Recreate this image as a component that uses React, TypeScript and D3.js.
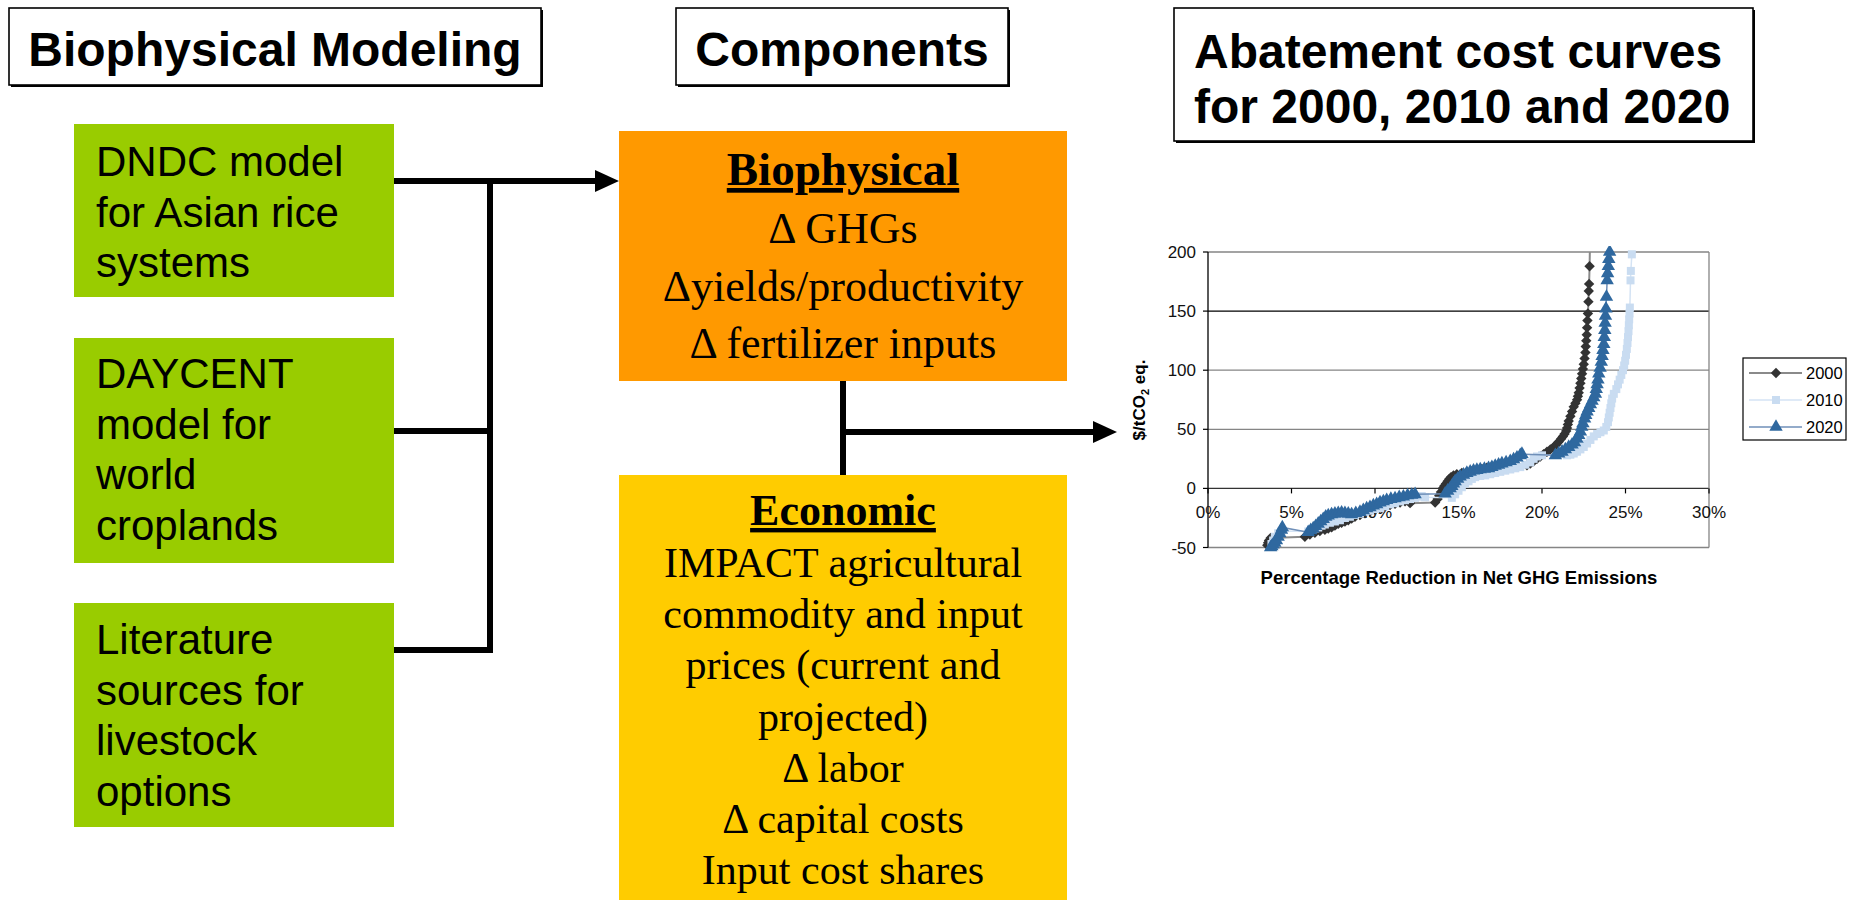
import * as d3 from "d3";

// axis ticks
const pctTicks = [0, 5, 10, 15, 20, 25, 30];
const costTicks = [-50, 0, 50, 100, 150, 200];

// abatement curves: [% reduction in net GHG emissions, $/tCO2 eq.]
const curve2000: [number, number][] = [
  [3.55, -48], [3.6, -46], [3.65, -44], [3.75, -42], [5.8, -41], [6.1, -39], [6.4, -37.5], [6.7, -36],
  [7.0, -35], [7.2, -34], [7.4, -33], [7.6, -31.5], [7.8, -30], [8.0, -29], [8.2, -28], [8.4, -27],
  [8.6, -25.5], [8.8, -24], [9.1, -22.5], [9.4, -21], [9.7, -19.5], [10.0, -18], [10.3, -16.5], [10.6, -15],
  [10.9, -14], [11.2, -13], [11.5, -12], [11.8, -11], [12.1, -12.5], [13.6, -12], [13.75, -9], [13.85, -6],
  [13.95, -3], [14.05, 0], [14.15, 2], [14.25, 4], [14.35, 6], [14.45, 8], [14.55, 9.5], [14.7, 11],
  [14.9, 12], [15.2, 13], [15.5, 14], [15.8, 14.5], [16.1, 15.5], [16.4, 16.5], [16.7, 17.5], [17.0, 18.5],
  [19.1, 19.5], [19.3, 21], [19.5, 23], [19.7, 25], [19.9, 27], [20.1, 29], [20.3, 31], [20.5, 33],
  [20.7, 35], [20.85, 37], [21.0, 39.5], [21.15, 42], [21.25, 44], [21.35, 46], [21.45, 48.5], [21.5, 51],
  [21.55, 54], [21.6, 57], [21.7, 61], [21.8, 65], [21.9, 69], [22.0, 72], [22.1, 75], [22.15, 78],
  [22.2, 81], [22.25, 85], [22.3, 89], [22.35, 93], [22.4, 97], [22.45, 101], [22.5, 105], [22.55, 110],
  [22.6, 115], [22.62, 120], [22.65, 125], [22.68, 130], [22.7, 136], [22.72, 142], [22.75, 148], [22.78, 158],
  [22.8, 167], [22.82, 173], [22.85, 188], [22.9, 230],
];
const curve2010: [number, number][] = [
  [3.8, -47], [3.9, -44], [4.0, -41], [4.2, -38], [4.4, -36], [6.0, -36.5], [6.2, -35], [6.4, -34],
  [6.6, -33], [6.8, -31.5], [7.0, -30.5], [7.3, -29], [7.6, -28], [7.9, -27], [8.2, -25], [8.5, -24],
  [8.8, -22.5], [9.1, -21.5], [9.4, -20], [9.7, -19], [10.0, -17.5], [10.3, -16.5], [10.6, -15], [10.9, -13.5],
  [11.2, -12.5], [11.5, -11], [11.8, -10], [12.1, -9], [12.4, -8], [12.6, -7], [12.8, -6.5], [13.0, -7.5],
  [14.6, -8], [14.8, -5], [15.0, -2], [15.2, 1], [15.4, 4], [15.6, 6], [15.8, 8], [16.0, 9.5],
  [16.3, 10.5], [16.6, 11], [16.9, 12], [17.2, 13], [17.5, 14], [17.8, 15], [18.1, 16], [18.4, 17],
  [18.7, 18], [19.0, 20], [19.3, 22], [19.5, 25], [19.7, 27], [20.0, 28], [21.5, 28], [21.7, 28.5],
  [21.9, 29.5], [22.1, 31], [22.3, 33], [22.5, 35], [22.7, 38], [22.9, 41], [23.1, 44], [23.3, 46],
  [23.5, 47.5], [23.7, 49], [23.85, 52], [23.95, 56], [24.0, 60], [24.05, 64], [24.1, 68], [24.15, 72],
  [24.2, 76], [24.3, 80], [24.45, 84], [24.55, 88], [24.65, 92], [24.75, 96], [24.85, 100], [24.92, 104],
  [24.98, 108], [25.03, 113], [25.08, 118], [25.12, 123], [25.15, 128], [25.18, 133], [25.2, 138], [25.22, 143],
  [25.24, 148], [25.26, 153], [25.3, 176], [25.32, 184], [25.38, 198], [25.45, 230],
];
const curve2020: [number, number][] = [
  [3.75, -50], [3.82, -49], [3.9, -47.5], [4.0, -46], [4.1, -44], [4.2, -41], [4.3, -38], [4.4, -35],
  [4.45, -33], [6.0, -37], [6.15, -35.5], [6.3, -34], [6.45, -32], [6.6, -30], [6.75, -28], [6.9, -26],
  [7.05, -24], [7.2, -23], [7.4, -22], [7.6, -21.5], [7.8, -21], [8.0, -20.5], [8.2, -21], [8.4, -21.5],
  [8.6, -22], [8.85, -21], [9.1, -20], [9.3, -18.5], [9.5, -17], [9.7, -16], [9.9, -14.5], [10.1, -13.5],
  [10.3, -12], [10.5, -11], [10.7, -10], [10.95, -9], [11.2, -8.5], [11.45, -7.5], [11.7, -7], [11.95, -6],
  [12.2, -5.5], [12.4, -5], [14.2, -4.5], [14.35, -2], [14.5, 0], [14.6, 2], [14.7, 4], [14.8, 6],
  [14.95, 8], [15.1, 10], [15.3, 11.5], [15.5, 13], [15.7, 14], [15.9, 15], [16.1, 15.5], [16.3, 16],
  [16.55, 16.5], [16.8, 17], [17.0, 18], [17.2, 19], [17.4, 20], [17.6, 21], [17.85, 22], [18.1, 23],
  [18.3, 24.5], [18.5, 26], [18.7, 28], [18.8, 29], [20.8, 28], [21.0, 29.5], [21.2, 31], [21.4, 33],
  [21.6, 35], [21.8, 37], [21.95, 39], [22.1, 42], [22.2, 45], [22.3, 48], [22.38, 52], [22.45, 55],
  [22.55, 59], [22.62, 62], [22.7, 65], [22.8, 68], [22.9, 71], [23.0, 74], [23.1, 77], [23.2, 80],
  [23.25, 84], [23.3, 88], [23.35, 92], [23.4, 97], [23.48, 102], [23.55, 107], [23.6, 112], [23.65, 117],
  [23.7, 122], [23.73, 128], [23.76, 134], [23.78, 140], [23.8, 146], [23.83, 152], [23.86, 162], [23.9, 176],
  [23.93, 182], [23.97, 188], [24.0, 194], [24.05, 200],
];

// flowchart texts
const modelBoxes = [
  ["DNDC model", "for Asian rice", "systems"],
  ["DAYCENT", "model for", "world", "croplands"],
  ["Literature", "sources for", "livestock", "options"],
];
const bioLines = ["\u0394 GHGs", "\u0394yields/productivity", "\u0394 fertilizer inputs"];
const econLines = [
  "IMPACT agricultural",
  "commodity and input",
  "prices (current and",
  "projected)",
  "\u0394 labor",
  "\u0394 capital costs",
  "Input cost shares",
];

const SANS = "'Liberation Sans', Arial, sans-serif";
const SERIF = "'Liberation Serif', 'Times New Roman', serif";

const x = d3.scaleLinear().domain([0, 30]).range([1208, 1709]);
const y = d3.scaleLinear().domain([-50, 200]).range([547.5, 252]);

const series = [
  { name: "2000", pts: curve2000, line: "#8a8a8a", lw: 2, fill: "#333333", shape: "diamond" },
  { name: "2010", pts: curve2010, line: "#d4e3f4", lw: 1.5, fill: "#c9dcf1", shape: "square" },
  { name: "2020", pts: curve2020, line: "#6f8fb8", lw: 1.5, fill: "#2f689f", shape: "triangle" },
];

const marker = (shape: string) => {
  if (shape === "diamond") return "M0,-5.2L5.2,0L0,5.2L-5.2,0Z";
  if (shape === "square") return "M-4,-4H4V4H-4Z";
  return d3.symbol(d3.symbolTriangle, 78)()!;
};

const lineGen = d3
  .line<[number, number]>()
  .x((d) => x(d[0]))
  .y((d) => y(d[1]));

const Arrow = ({ x1, x2, yy }: { x1: number; x2: number; yy: number }) => (
  <g>
    <line x1={x1} x2={x2 - 20} y1={yy} y2={yy} stroke="#000" strokeWidth={6} />
    <path d={`M${x2},${yy}L${x2 - 24},${yy - 11}L${x2 - 24},${yy + 11}Z`} fill="#000" />
  </g>
);

const HeaderBox = ({ x0, y0, w, h }: { x0: number; y0: number; w: number; h: number }) => (
  <g>
    <rect x={x0 + 2} y={y0 + 2} width={w} height={h} fill="#000" />
    <rect x={x0} y={y0} width={w} height={h} fill="#fff" stroke="#000" strokeWidth={1.6} />
  </g>
);

const greenTops = [124, 338, 603];
const greenHeights = [173, 225, 224];
const greenBase = [176, 388, 654];
const connectorY = [181, 431, 650];

const App = () => {
  const [x0, x1] = x.range();
  const [yBottom, yTop] = y.range();
  return (
    <svg
      width={1854}
      height={900}
      style={{ position: "absolute", left: 0, top: 0, background: "#fff" }}
      fontFamily={SANS}
    >
      <rect width={1854} height={900} fill="#fff" />

      {/* header boxes */}
      <HeaderBox x0={9} y0={8} w={532} h={77} />
      <text x={275} y={66} textAnchor="middle" fontSize={48} fontWeight="bold">
        Biophysical Modeling
      </text>
      <HeaderBox x0={676} y0={8} w={332} h={77} />
      <text x={842} y={66} textAnchor="middle" fontSize={48} fontWeight="bold">
        Components
      </text>
      <HeaderBox x0={1174} y0={8} w={579} h={133} />
      <text x={1194} y={68} fontSize={48} fontWeight="bold">
        Abatement cost curves
      </text>
      <text x={1194} y={123} fontSize={48} fontWeight="bold">
        for 2000, 2010 and 2020
      </text>

      {/* model boxes */}
      {modelBoxes.map((lines, i) => (
        <g key={i}>
          <rect x={74} y={greenTops[i]} width={320} height={greenHeights[i]} fill="#99cc00" />
          {lines.map((t, j) => (
            <text key={j} x={96} y={greenBase[i] + j * 50.5} fontSize={42}>
              {t}
            </text>
          ))}
          <line x1={394} x2={493} y1={connectorY[i]} y2={connectorY[i]} stroke="#000" strokeWidth={6} />
        </g>
      ))}
      <line x1={490} x2={490} y1={178} y2={653} stroke="#000" strokeWidth={6} />
      <Arrow x1={490} x2={619} yy={181} />

      {/* components */}
      <rect x={619} y={131} width={448} height={250} fill="#ff9900" />
      <text
        x={843}
        y={185}
        textAnchor="middle"
        fontFamily={SERIF}
        fontSize={47}
        fontWeight="bold"
        style={{ textDecoration: "underline" }}
      >
        Biophysical
      </text>
      {bioLines.map((t, i) => (
        <text key={t} x={843} y={243 + i * 57.5} textAnchor="middle" fontFamily={SERIF} fontSize={44}>
          {t}
        </text>
      ))}
      <line x1={843} x2={843} y1={381} y2={475} stroke="#000" strokeWidth={6} />
      <Arrow x1={840} x2={1117} yy={432} />
      <rect x={619} y={475} width={448} height={425} fill="#ffcc00" />
      <text
        x={843}
        y={525}
        textAnchor="middle"
        fontFamily={SERIF}
        fontSize={44}
        fontWeight="bold"
        style={{ textDecoration: "underline" }}
      >
        Economic
      </text>
      {econLines.map((t, i) => (
        <text key={t} x={843} y={577 + i * 51.2} textAnchor="middle" fontFamily={SERIF} fontSize={42}>
          {t}
        </text>
      ))}

      {/* chart */}
      <defs>
        <clipPath id="plotClip">
          <rect x={x0 - 6} y={yTop - 6} width={x1 - x0 + 12} height={yBottom - yTop + 12} />
        </clipPath>
        <clipPath id="lineClip">
          <rect x={x0} y={yTop} width={x1 - x0} height={yBottom - yTop} />
        </clipPath>
      </defs>
      {costTicks.map((t) => (
        <g key={t}>
          <line
            x1={x0}
            x2={x1}
            y1={y(t)}
            y2={y(t)}
            stroke={t === 150 ? "#000" : t === 0 ? "#333" : "#858585"}
            strokeWidth={1.3}
          />
          <line x1={x0 - 5} x2={x0} y1={y(t)} y2={y(t)} stroke="#000" strokeWidth={1.2} />
          <text x={x0 - 12} y={y(t) + 6} textAnchor="end" fontSize={17} fill="#111">
            {t}
          </text>
        </g>
      ))}
      <line x1={x1} x2={x1} y1={yTop} y2={yBottom} stroke="#858585" strokeWidth={1.3} />
      <line x1={x0} x2={x0} y1={yTop} y2={yBottom} stroke="#000" strokeWidth={1.3} />
      {pctTicks.map((t) => (
        <g key={t}>
          <line x1={x(t)} x2={x(t)} y1={y(0)} y2={y(0) + 5} stroke="#000" strokeWidth={1.2} />
          <text x={x(t)} y={y(0) + 30} textAnchor="middle" fontSize={17} fill="#111">
            {t}%
          </text>
        </g>
      ))}
      <text
        transform={`translate(1145,400) rotate(-90)`}
        textAnchor="middle"
        fontSize={17}
        fontWeight="bold"
      >
        $/tCO<tspan fontSize={11} dy={4}>2</tspan>
        <tspan dy={-4}> eq.</tspan>
      </text>
      <text x={1459} y={584} textAnchor="middle" fontSize={18.5} fontWeight="bold">
        Percentage Reduction in Net GHG Emissions
      </text>

      {series.map((s) => (
        <g key={s.name}>
          <path
            d={lineGen(s.pts)!}
            fill="none"
            stroke={s.line}
            strokeWidth={s.lw}
            clipPath="url(#lineClip)"
          />
          <g clipPath="url(#plotClip)">
            {s.pts
              .filter((p) => p[1] <= 205)
              .map((p, i) => (
                <path
                  key={i}
                  d={marker(s.shape)}
                  transform={`translate(${x(p[0])},${y(p[1])})`}
                  fill={s.fill}
                />
              ))}
          </g>
        </g>
      ))}

      {/* legend */}
      <rect x={1743} y={358} width={103} height={82} fill="#fff" stroke="#000" strokeWidth={1.2} />
      {series.map((s, i) => {
        const ly = 373 + i * 27;
        return (
          <g key={s.name}>
            <line x1={1749} x2={1802} y1={ly} y2={ly} stroke={s.line} strokeWidth={s.lw} />
            <path d={marker(s.shape)} transform={`translate(1776,${ly})`} fill={s.fill} />
            <text x={1806} y={ly + 6} fontSize={16.5} fill="#000">
              {s.name}
            </text>
          </g>
        );
      })}
    </svg>
  );
};

export default App;
